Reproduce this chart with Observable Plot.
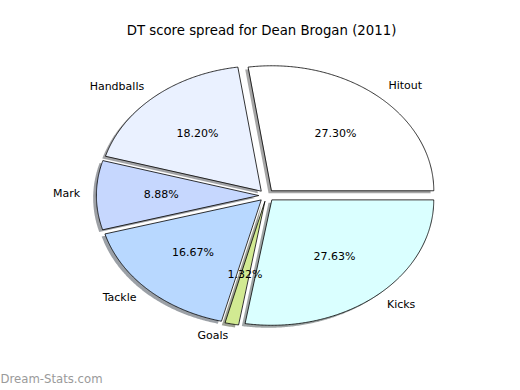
<!DOCTYPE html>
<html>
<head>
<meta charset="utf-8">
<script src="https://cdn.jsdelivr.net/npm/d3@7"></script>
<script src="https://cdn.jsdelivr.net/npm/@observablehq/plot@0.6"></script>
<style>
  html, body { margin: 0; padding: 0; background: #fff; }
  svg { display: block; }
</style>
</head>
<body>
<div id="chart"></div>
<script>
const title = "DT score spread for Dean Brogan (2011)";
const watermark = "Dream-Stats.com";
const categories = ["Hitout", "Handballs", "Mark", "Tackle", "Goals", "Kicks"];
const percents = [27.30, 18.20, 8.88, 16.67, 1.32, 27.63];
const colors = ["#ffffff", "#eaf1ff", "#c6d7fe", "#b8d8ff", "#d2ea92", "#daffff"];

const EXPLODE = 0.05, SHADOW = 0.02, LABEL_D = 1.1, PCT_D = 0.6;
const total = d3.sum(percents);
let acc = 0;
const wedges = categories.map((cat, i) => {
  const a0 = acc / total * 2 * Math.PI;
  acc += percents[i];
  const a1 = acc / total * 2 * Math.PI;
  const am = (a0 + a1) / 2;
  const ox = EXPLODE * Math.cos(am), oy = EXPLODE * Math.sin(am);
  const n = Math.max(2, Math.ceil((a1 - a0) / (Math.PI / 360)));
  const pts = [{x: ox, y: oy}];
  for (let k = 0; k <= n; k++) {
    const a = a0 + (a1 - a0) * k / n;
    pts.push({x: ox + Math.cos(a), y: oy + Math.sin(a)});
  }
  const lx = ox + LABEL_D * Math.cos(am), ly = oy + LABEL_D * Math.sin(am);
  return {
    cat, color: colors[i], pts,
    shadowPts: pts.map(p => ({x: p.x - SHADOW, y: p.y - SHADOW})),
    shadowColor: (() => { const c = d3.rgb(colors[i]); return `rgb(${c.r*0.3},${c.g*0.3},${c.b*0.3})`; })(),
    label: {x: lx, y: ly, text: cat},
    pct: {x: ox + PCT_D * Math.cos(am), y: oy + PCT_D * Math.sin(am), text: percents[i].toFixed(2) + "%"}
  };
});

const font = "DejaVu Sans, Liberation Sans, sans-serif";
const marks = [];
wedges.forEach(w => marks.push(Plot.line(w.shadowPts, {x: "x", y: "y", curve: "linear-closed", fill: w.shadowColor, fillOpacity: 0.5, stroke: "none"})));
wedges.forEach(w => marks.push(Plot.line(w.pts, {x: "x", y: "y", curve: "linear-closed", fill: w.color, stroke: "black", strokeWidth: 0.8, strokeLinejoin: "miter"})));
const labels = wedges.map(w => w.label);
marks.push(Plot.text(labels.filter(d => d.x > 0), {x: "x", y: "y", text: "text", textAnchor: "start", fontSize: 11, fill: "black", dy: -1}));
marks.push(Plot.text(labels.filter(d => d.x <= 0), {x: "x", y: "y", text: "text", textAnchor: "end", fontSize: 11, fill: "black", dy: -1}));
marks.push(Plot.text(wedges.map(w => w.pct), {x: "x", y: "y", text: "text", textAnchor: "middle", fontSize: 11, fill: "black", dy: -1}));
marks.push(Plot.text([title], {frameAnchor: "top", dy: 25, dx: 1, text: d => d, fontSize: 13.3, fill: "black"}));
marks.push(Plot.text([watermark], {frameAnchor: "bottom-left", dy: -8, dx: 0, text: d => d, textAnchor: "start", fontSize: 11.7, fill: "#9a9a9a"}));

const chart = Plot.plot({
  width: 520, height: 390,
  margin: 0,
  style: {fontFamily: font, background: "#fff"},
  x: {domain: [-266 / 162, 254 / 162], axis: null},
  y: {domain: [-195 / 125, 195 / 125], axis: null},
  marks
});
document.getElementById("chart").appendChild(chart);
</script>
</body>
</html>
